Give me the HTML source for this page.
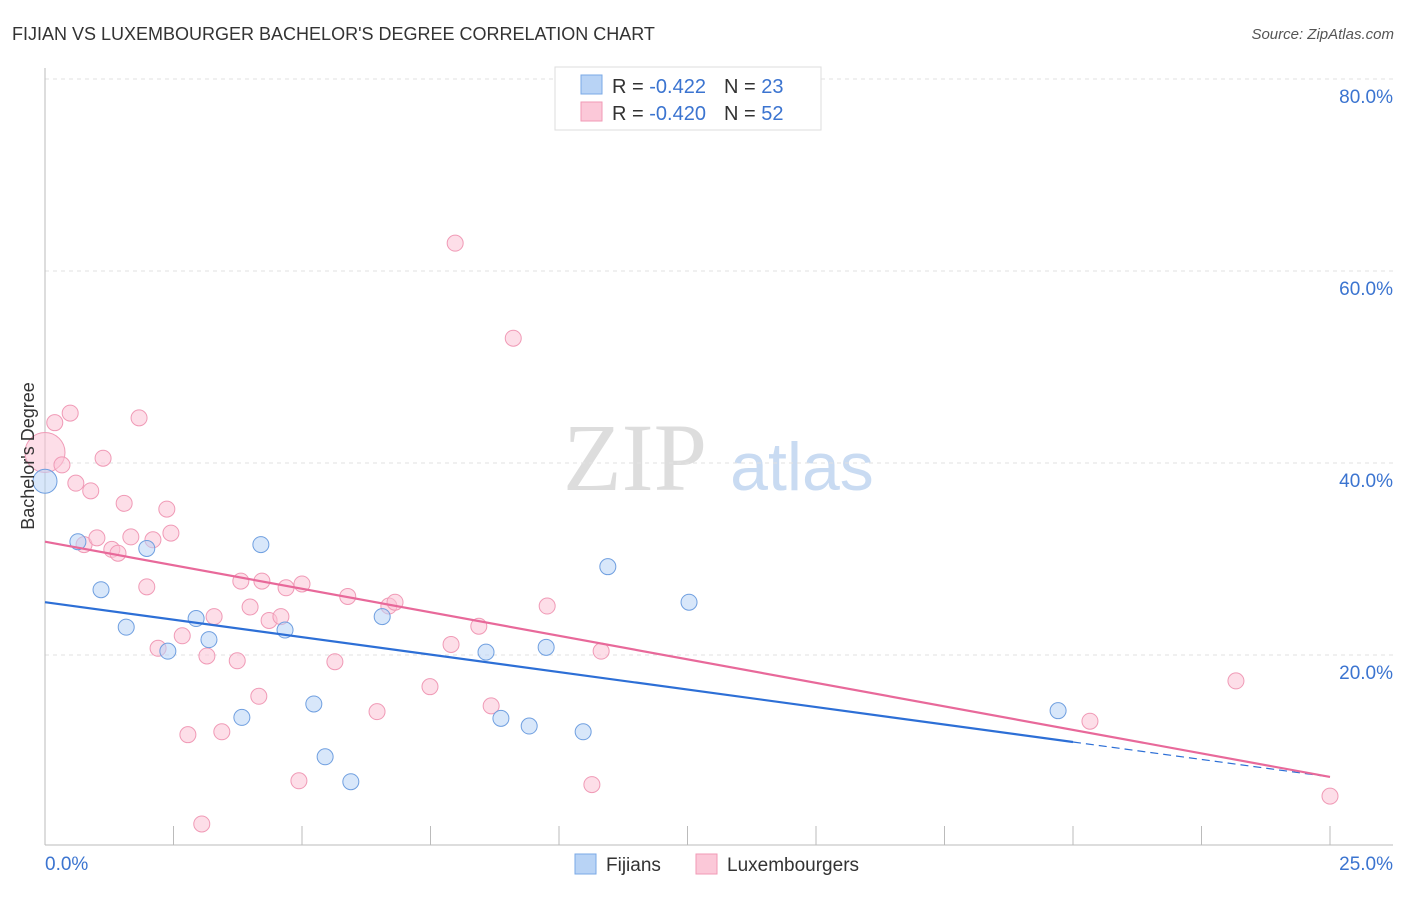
<!DOCTYPE html>
<html><head><meta charset="utf-8"><style>
body{margin:0;background:#fff;font-family:"Liberation Sans",sans-serif;}
svg text{font-family:"Liberation Sans",sans-serif;}
</style></head><body>
<svg id="chart" width="1406" height="892" xmlns="http://www.w3.org/2000/svg">
<text x="12" y="40" font-size="18" fill="#333">FIJIAN VS LUXEMBOURGER BACHELOR'S DEGREE CORRELATION CHART</text>
<text x="1394" y="39" font-size="15" fill="#555" text-anchor="end" font-style="italic">Source: ZipAtlas.com</text>
<text x="635" y="490" font-size="96" fill="#ddd" text-anchor="middle" font-family="Liberation Serif" style="font-family:'Liberation Serif',serif">ZIP</text>
<text x="802" y="490" font-size="68" fill="#c9dbf2" text-anchor="middle">atlas</text>
<g id="grid"></g>
<g id="axes"></g>
<g id="marks"></g>
<text transform="translate(34,456) rotate(-90)" font-size="18" fill="#333" text-anchor="middle">Bachelor's Degree</text>
<g>
<rect x="555" y="67" width="266" height="63" fill="#fff" stroke="#ddd"/>
<rect x="581" y="75" width="21" height="19" fill="#b8d3f5" stroke="#7aa8e6"/>
<rect x="581" y="102" width="21" height="19" fill="#fbc8d8" stroke="#f09ab6"/>
<text x="612" y="93" font-size="20" fill="#333">R = <tspan fill="#3b74d0"> -0.422</tspan><tspan dx="18">N = </tspan><tspan fill="#3b74d0">23</tspan></text>
<text x="612" y="120" font-size="20" fill="#333">R = <tspan fill="#3b74d0">-0.420</tspan><tspan dx="18">N = </tspan><tspan fill="#3b74d0">52</tspan></text>
</g>
<g>
<rect x="575" y="854" width="21" height="20" fill="#b8d3f5" stroke="#7aa8e6"/>
<text x="606" y="871" font-size="19" fill="#333">Fijians</text>
<rect x="696" y="854" width="21" height="20" fill="#fbc8d8" stroke="#f09ab6"/>
<text x="727" y="871" font-size="19" fill="#333">Luxembourgers</text>
</g>
</svg>
<script>
const yTicks=[20,40,60,80];
const yTickLabels=["20.0%","40.0%","60.0%","80.0%"];
const xTickLabels=["0.0%","25.0%"];
const fijiX=[0,0.64,1.09,1.58,1.98,2.39,2.94,3.19,3.83,4.20,4.67,5.23,5.45,5.95,6.56,8.58,8.87,9.42,9.75,10.47,10.95,12.53,19.71];
const fijiY=[38.1,31.8,26.8,22.9,31.1,20.4,23.8,21.6,13.5,31.5,22.6,14.9,9.4,6.8,24.0,20.3,13.4,12.6,20.8,12.0,29.2,25.5,14.2];
const luxX=[0,.19,.33,.49,.60,.76,.89,1.01,1.13,1.30,1.42,1.54,1.67,1.83,1.98,2.10,2.20,2.37,2.45,2.67,2.78,3.05,3.15,3.29,3.44,3.74,3.81,3.99,4.16,4.22,4.36,4.59,4.69,4.94,5.00,5.64,5.89,6.46,6.69,6.81,7.49,7.90,7.98,8.44,8.68,9.11,9.77,10.64,10.82,20.33,23.17,25.0];
const luxY=[41.1,44.2,39.8,45.2,37.9,31.5,37.1,32.2,40.5,31.0,30.6,35.8,32.3,44.7,27.1,32.0,20.7,35.2,32.7,22.0,11.7,2.4,19.9,24.0,12.0,19.4,27.7,25.0,15.7,27.7,23.6,24.0,27.0,6.9,27.4,19.3,26.1,14.1,25.1,25.5,16.7,21.1,62.9,23.0,14.7,53.0,25.1,6.5,20.4,13.1,17.3,5.3];
const fijiTrend=[25.5,7.3];
const luxTrend=[31.8,7.3];
const NS="http://www.w3.org/2000/svg";
const X=v=>45+v*51.4, Y=v=>847-v*9.6;
function mk(tag,attrs,parent){const e=document.createElementNS(NS,tag);for(const k in attrs)e.setAttribute(k,attrs[k]);document.getElementById(parent).appendChild(e);return e;}
yTicks.forEach((t,i)=>{
 const g=mk('line',{x1:45,x2:1393,y1:Y(t),y2:Y(t),stroke:'#e2e2e2','stroke-dasharray':'4,4'},'grid');
 
 
 const l=mk('text',{x:1393,y:Y(t)+24,'font-size':19,fill:'#3b74d0','text-anchor':'end'},'axes');
 l.textContent=yTickLabels[i];
 
 
});
const ax=mk('line',{x1:45,x2:1393,y1:845,y2:845,stroke:'#bbb'},'axes');


const ay=mk('line',{x1:45,x2:45,y1:68,y2:845,stroke:'#bbb'},'axes');


for(let i=1;i<=10;i++){
 const t=mk('line',{x1:X(i*2.5),x2:X(i*2.5),y1:826,y2:845,stroke:'#bbb'},'axes');
 
 
}
[[0,'start',45],[25,'end',1393]].forEach((d,i)=>{
 const l=mk('text',{x:d[2],y:870,'font-size':19,fill:'#3b74d0','text-anchor':d[1]},'axes');
 l.textContent=xTickLabels[i];
 
 
});
function pts(xs,ys,fill,stroke,name,bigR){
 xs.forEach((x,i)=>{
  const c=mk('circle',{cx:X(x),cy:Y(ys[i]),r:i===0?bigR:8,fill:fill,'fill-opacity':0.55,stroke:stroke,'stroke-width':1},'marks');
  
  
 });
}
pts(luxX,luxY,'#fbc3d5','#f09ab6','luxembourger-point',20);
pts(fijiX,fijiY,'#b8d3f5','#6f9fe0','fijian-point',12);
const fy=x=>fijiTrend[0]+(fijiTrend[1]-fijiTrend[0])*x/25;
let l1=mk('line',{x1:X(0),y1:Y(fy(0)),x2:X(20),y2:Y(fy(20)),stroke:'#2d6fd6','stroke-width':2.2},'marks');


let l2=mk('line',{x1:X(20),y1:Y(fy(20)),x2:X(25),y2:Y(fy(25)),stroke:'#2d6fd6','stroke-width':1.2,'stroke-dasharray':'8,5'},'marks');


let l3=mk('line',{x1:X(0),y1:Y(luxTrend[0]),x2:X(25),y2:Y(luxTrend[1]),stroke:'#e8699a','stroke-width':2.2},'marks');


</script>
</body></html>
